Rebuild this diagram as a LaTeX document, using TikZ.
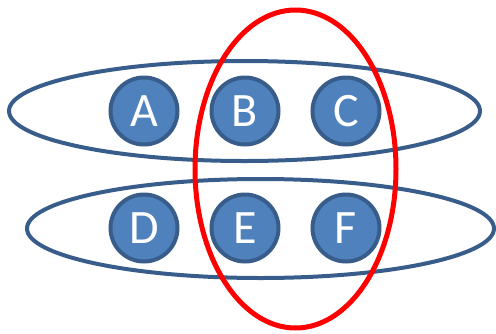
\documentclass[tikz,border=0pt]{standalone}
\usepackage{fontspec}
\setmainfont{Carlito}
\definecolor{setblue}{HTML}{4F81BD}
\definecolor{setedge}{HTML}{385D8A}
\definecolor{setred}{HTML}{FF0000}
\begin{document}
\begin{tikzpicture}[x=1pt,y=-1pt,
  member/.style={circle,fill=setblue,draw=setedge,line width=4pt,
    minimum size=67pt,inner sep=0pt,text=white,font=\fontsize{48}{48}\selectfont},
  rowset/.style={draw=setedge,line width=4pt},
  colset/.style={draw=setred,line width=5pt}]
\useasboundingbox (0,0) rectangle (496,333);
% row groupings
\draw[rowset] (244.5,111) ellipse [x radius=235.5, y radius=50];
\draw[rowset] (260.5,228.5) ellipse [x radius=233.5, y radius=49.5];
% members
\node[member] (A) at (144,111) {A};
\node[member] (B) at (245,111) {B};
\node[member] (C) at (346,111) {C};
\node[member] (D) at (144,228) {D};
\node[member] (E) at (245,228) {E};
\node[member] (F) at (346,228) {F};
% column grouping
\draw[colset] (295.5,169) ellipse [x radius=100.5, y radius=159];
\end{tikzpicture}
\end{document}
